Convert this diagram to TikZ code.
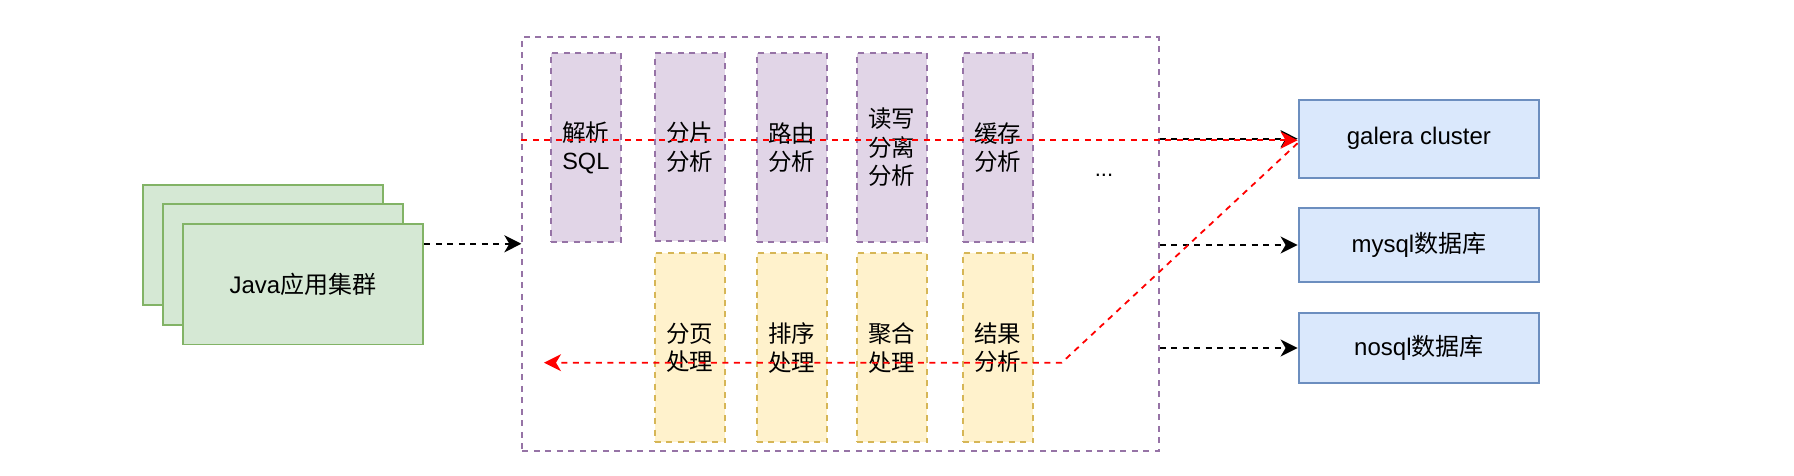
\documentclass[tikz,border=0pt]{standalone}
\usepackage{fontspec}
\setmainfont{Liberation Sans}
\newfontfamily\cjk{Noto Sans CJK SC}
\usetikzlibrary{arrows.meta}
\definecolor{pfill}{HTML}{E1D5E7}
\definecolor{pstroke}{HTML}{9673A6}
\definecolor{yfill}{HTML}{FFF2CC}
\definecolor{ystroke}{HTML}{D6B656}
\definecolor{gfill}{HTML}{D5E8D4}
\definecolor{gstroke}{HTML}{82B366}
\definecolor{bfill}{HTML}{DAE8FC}
\definecolor{bstroke}{HTML}{6C8EBF}
\definecolor{redline}{HTML}{FF0000}
\tikzset{
  basebox/.style={draw, line width=1.9pt, inner sep=0pt, align=center},
  dashpat/.style={dash pattern=on 6pt off 5.5pt},
  phase/.style={basebox, dashpat, draw=pstroke, fill=pfill, minimum width=70.3pt, minimum height=189pt, font=\fontsize{23.5}{28.5}\selectfont},
  post/.style={basebox, dashpat, draw=ystroke, fill=yfill, minimum width=70.3pt, minimum height=189pt, font=\fontsize{23.5}{28.5}\selectfont},
  dbbox/.style={basebox, draw=bstroke, fill=bfill, minimum width=240.7pt, font=\fontsize{24}{29}\selectfont},
  appbox/.style={basebox, draw=gstroke, fill=gfill, minimum width=240.6pt, minimum height=120.3pt, font=\fontsize{24}{29}\selectfont},
  container/.style={basebox, dashpat, draw=pstroke, fill=none, minimum width=636.4pt, minimum height=413.8pt},
  conn/.style={dashpat, line width=1.8pt, -{Stealth[length=17pt,width=17pt,inset=5pt]}},
  redconn/.style={conn, draw=redline, color=redline},
}
\begin{document}
\begin{tikzpicture}[x=1pt,y=-1pt]
\useasboundingbox (0,0) rectangle (1794,476);

% Java application cluster (stack)
\node[appbox] (app3) at (263,244.8) {};
\node[appbox] (app2) at (283,264.5) {};
\node[appbox] (app1) at (303,284.3) {Java{\cjk 应用集群}};

% container
\node[container] (cont) at (840.5,243.8) {};

% parsing phases
\node[phase] (p1) at (585.8,147.6) {{\cjk 解析}\\SQL};
\node[phase, minimum height=187.5pt] (p2) at (689.8,146.9) {\cjk 分片\\\cjk 分析};
\node[phase] (p3) at (791.8,147.6) {\cjk 路由\\\cjk 分析};
\node[phase] (p4) at (891.8,147.6) {\cjk 读写\\\cjk 分离\\\cjk 分析};
\node[phase] (p5) at (997.7,147.6) {\cjk 缓存\\\cjk 分析};
\node[font=\fontsize{22}{28}\selectfont, anchor=base] (dots) at (1104,176) {...};

% result phases
\node[post] (q2) at (689.8,347.8) {\cjk 分页\\\cjk 处理};
\node[post] (q3) at (791.8,347.8) {\cjk 排序\\\cjk 处理};
\node[post] (q4) at (891.8,347.8) {\cjk 聚合\\\cjk 处理};
\node[post] (q5) at (997.7,347.8) {\cjk 结果\\\cjk 分析};

% databases
\node[dbbox, minimum height=77.7pt] (g) at (1418.9,138.7) {galera cluster};
\node[dbbox, minimum height=74pt] (m) at (1418.9,245) {mysql{\cjk 数据库}};
\node[dbbox, minimum height=70.6pt] (n) at (1418.9,348) {nosql{\cjk 数据库}};

% connectors
\draw[conn] (app1.east |- cont.west) -- (cont.west);
\draw[conn] (cont.east |- g.west) -- (g.west);
\draw[conn] (cont.east |- m.west) -- (m.west);
\draw[conn] (cont.east |- n.west) -- (n.west);

\draw[redconn] ([yshift=-1.5pt]cont.west |- g.west) -- ([yshift=-1.5pt]g.west);
\coordinate (rc) at (1061.7,362.7);
\coordinate (re) at (544,362.7);
\draw[redconn] ([yshift=-4.5pt]g.west) -- (rc) -- (re);
\end{tikzpicture}
\end{document}
